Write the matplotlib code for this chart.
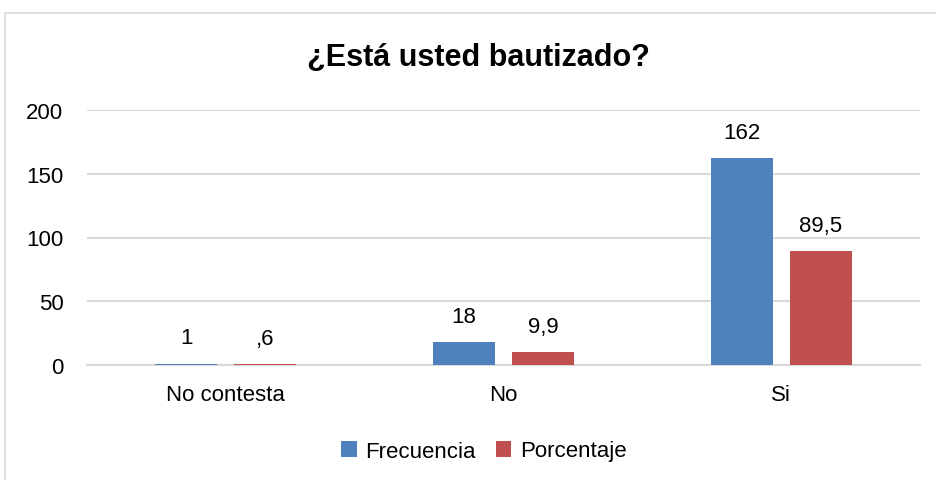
import matplotlib.pyplot as plt
from matplotlib.patches import Rectangle
import numpy as np

categorias = ['No contesta', 'No', 'Si']
frecuencia = [1, 18, 162]
porcentaje = [0.6, 9.9, 89.5]
etiq_frec = ['1', '18', '162']
etiq_porc = [',6', '9,9', '89,5']
yticks = [0, 50, 100, 150, 200]

plt.rcParams['font.family'] = ['Liberation Sans', 'DejaVu Sans']

azul = '#4F81BD'
rojo = '#C0504D'

fig = plt.figure(figsize=(9.36, 4.81), dpi=100)
fig.patches.append(Rectangle((5 / 936, -0.1), 1.2, 1 - 14 / 481 + 0.1,
                             transform=fig.transFigure, fill=False,
                             edgecolor='#D9D9D9', linewidth=1.2))

ax = fig.add_axes([87 / 936, 1 - 366 / 481, 833 / 936, 255 / 481])
x = np.arange(len(categorias))
w = 0.223
off = 0.142
b1 = ax.bar(x - off, frecuencia, w, color=azul, label='Frecuencia', zorder=3)
b2 = ax.bar(x + off, porcentaje, w, color=rojo, label='Porcentaje', zorder=3)

for bars, labs in ((b1, etiq_frec), (b2, etiq_porc)):
    for r, t in zip(bars, labs):
        ax.annotate(t, (r.get_x() + r.get_width() / 2, r.get_height()),
                    xytext=(0, 11), textcoords='offset points',
                    ha='center', va='bottom', fontsize=16)

ax.set_xlim(-0.5, 2.5)
ax.set_ylim(0, 200)
ax.set_yticks(yticks)
ax.set_xticks(x)
ax.set_xticklabels(categorias)
ax.tick_params(length=0, labelsize=16)
ax.tick_params(axis='y', pad=17)
ax.tick_params(axis='x', pad=14)
ax.grid(axis='y', color='#D9D9D9', linewidth=1.5, zorder=0)
for s in ['top', 'right', 'left']:
    ax.spines[s].set_visible(False)
ax.spines['bottom'].set_color('#D9D9D9')
ax.spines['bottom'].set_linewidth(1.5)

fig.text(478 / 936, 1 - 58 / 481, '¿Está usted bautizado?', ha='center', va='center',
         fontsize=22, fontweight='bold')

fig.legend(handles=[b1, b2], loc='center', bbox_to_anchor=(484 / 936, 1 - 452 / 481),
           ncol=2, frameon=False, fontsize=16, handlelength=0.7, handleheight=0.7,
           handletextpad=0.4, columnspacing=0.9)

fig.savefig('out.png', dpi=100)
